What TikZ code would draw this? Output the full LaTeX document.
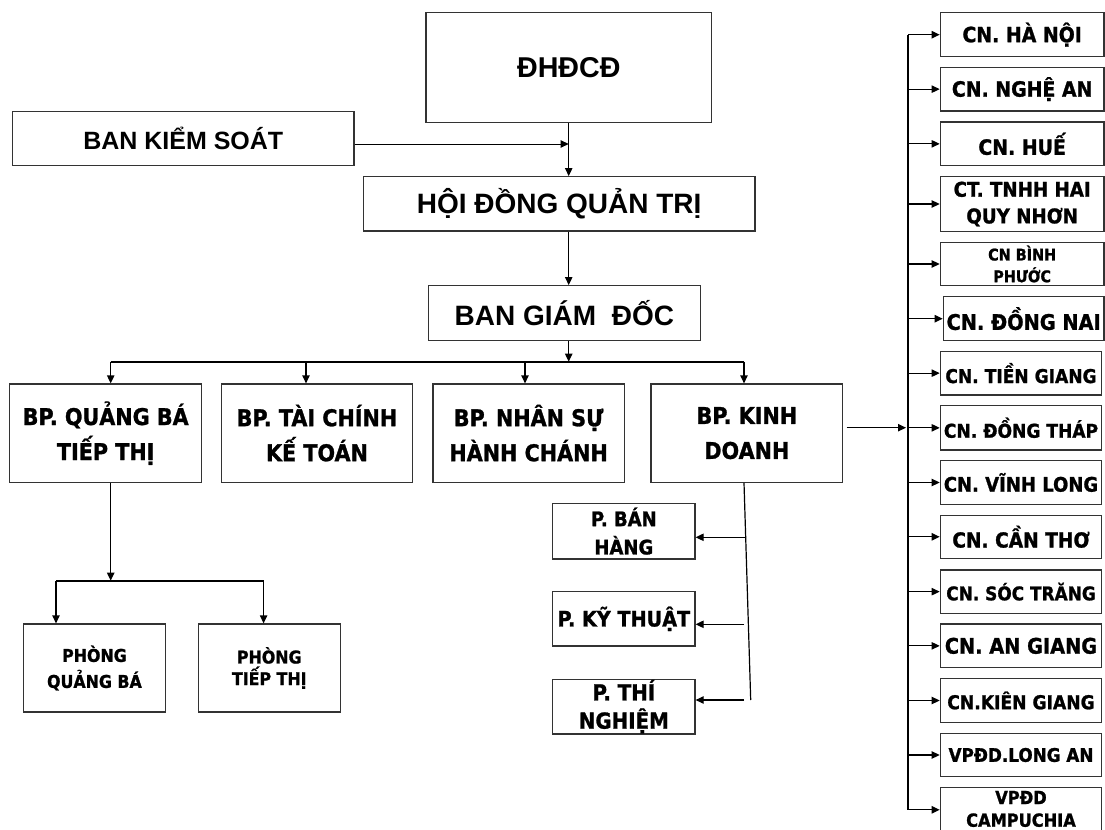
\documentclass[tikz,border=0pt]{standalone}
\usepackage{fontspec}
\usetikzlibrary{arrows.meta}
\newfontfamily\arl{Liberation Sans}
\newfontfamily\tah[FakeStretch=0.9, BoldFeatures={FakeBold=1.2}]{DejaVu Sans}
\newcommand{\orgbox}[7][]{%
  \pgfmathsetmacro{\obw}{(#5-#3)*0.75}%
  \pgfmathsetmacro{\obh}{(#6-#4)*0.75}%
  \node[box, minimum width=\obw pt, minimum height=\obh pt, #1] (#2) at ({(#3+#5)/2},{(#4+#6)/2}) {#7};%
}
\tikzset{
  box/.style={draw=black!80, line width=0.9pt, inner sep=0pt, align=center},
  tf/.style 2 args={font=\tah\bfseries\fontsize{#1pt}{#2pt}\selectfont},
  af/.style 2 args={font=\arl\bfseries\fontsize{#1pt}{#2pt}\selectfont},
  arr/.style={-{Triangle[length=6pt,width=5.5pt]}, line width=0.9pt},
  bus/.style={line width=1.6pt},
}
\begin{document}
\begin{tikzpicture}[x=0.75pt, y=-0.75pt]
\useasboundingbox (0,0) rectangle (1105,830);

% top
\orgbox[af={21.5}{25}]{dhd}{426}{12.7}{711.7}{122.3}{ĐHĐCĐ}
\orgbox[af={18.75}{22}]{bks}{12.5}{111.5}{354}{165.7}{BAN KIỂM SOÁT}
\orgbox[af={21}{25}]{hdqt}{363.3}{176.7}{755}{231}{HỘI ĐỒNG QUẢN TRỊ}
\orgbox[af={21}{25}]{bgd}{428.3}{285.7}{700.5}{340.7}{BAN GIÁM\ \ ĐỐC}

% row
\orgbox[tf={17.25}{26.25}]{bp1}{9.6}{384}{201.8}{482.3}{BP. QUẢNG BÁ\\TIẾP THỊ}
\orgbox[tf={17.25}{26.25}]{bp2}{221.4}{384}{412.5}{482.3}{BP. TÀI CHÍNH\\KẾ TOÁN}
\orgbox[tf={17.25}{26.25}]{bp3}{432.9}{384}{624.3}{482.3}{BP. NHÂN SỰ\\HÀNH CHÁNH}
\orgbox[tf={17.25}{26.25}]{bp4}{651}{384}{842.7}{482.3}{BP. KINH\\DOANH}

% phong
\orgbox[tf={13.2}{19.5}]{pqb}{23.2}{624}{165.7}{712}{PHÒNG\\QUẢNG BÁ}
\orgbox[tf={13.2}{16.2}]{ptt}{198.2}{624}{340.4}{712}{PHÒNG\\TIẾP THỊ}

% P boxes
\orgbox[tf={15}{21.2}]{pban}{552.7}{503.3}{695}{559}{P. BÁN\\HÀNG}
\orgbox[tf={16}{20}]{pkt}{552.7}{591.7}{695}{646}{P. KỸ THUẬT}
\orgbox[tf={16.5}{21.2}]{ptn}{552.7}{679.3}{695}{734}{P. THÍ\\NGHIỆM}

% right column
\orgbox[tf={15.75}{20}]{r1}{940.3}{12.7}{1104}{56.7}{CN. HÀ NỘI}
\orgbox[tf={15.75}{20}]{r2}{940.3}{67.3}{1104}{111}{CN. NGHỆ AN}
\orgbox[tf={15.75}{20}]{r3}{940.3}{122}{1104}{165.7}{CN. HUẾ}
\orgbox[tf={15.2}{20}]{r4}{940.3}{176.7}{1104}{231.3}{CT. TNHH HAI\\QUY NHƠN}
\orgbox[tf={12}{16.3}]{r5}{940.3}{242.3}{1104}{285.7}{CN BÌNH\\PHƯỚC}
\orgbox[tf={16.1}{20}]{r6}{943.3}{296.7}{1104}{340.7}{CN. ĐỒNG NAI}
\orgbox[tf={14.25}{20}]{r7}{940.3}{351.3}{1101.7}{395}{CN. TIỀN GIANG}
\orgbox[tf={14.25}{20}]{r8}{940.3}{405.7}{1101.7}{450}{CN. ĐỒNG THÁP}
\orgbox[tf={15}{20}]{r9}{940.3}{460.7}{1101.7}{504.3}{CN. VĨNH LONG}
\orgbox[tf={15.5}{20}]{r10}{940.3}{515.3}{1101.7}{558.3}{CN. CẦN THƠ}
\orgbox[tf={14.1}{20}]{r11}{940.3}{570}{1101.7}{613.3}{CN. SÓC TRĂNG}
\orgbox[tf={16.1}{20}]{r12}{940.3}{624}{1101.7}{667.7}{CN. AN GIANG}
\orgbox[tf={14.3}{20}]{r13}{940.3}{678.7}{1101.7}{722.3}{CN.KIÊN GIANG}
\orgbox[tf={14}{20}]{r14}{940.3}{733.3}{1101.7}{776.7}{VPĐD.LONG AN}
\orgbox[tf={13.5}{17}]{r15}{940.3}{787.7}{1101.7}{834}{\raisebox{2.5pt}{\begin{tabular}{@{}c@{}}VPĐD\\CAMPUCHIA\end{tabular}}}

% coordinates
\coordinate (vx) at (568.7,0);
\coordinate (j1) at (568.7,144);
\coordinate (bus) at (568.7,361.7);
\coordinate (b1) at (110.7,361.7);
\coordinate (b2) at (306,361.7);
\coordinate (b3) at (525,361.7);
\coordinate (b4) at (744,361.7);
\coordinate (rb) at (906,427.7);
\coordinate (rtop) at (908,34.7);
\coordinate (rbot) at (908,809.8);
\coordinate (kend) at (750.7,700);
\coordinate (k1) at (746,537.3);
\coordinate (k2) at (744,624.3);
\coordinate (k3) at (744,700);
\coordinate (s0) at (110.7,580.7);
\coordinate (s1) at (56,580.7);
\coordinate (s2) at (263.6,580.7);

% top connectors
\draw[arr, line width=0.7pt] (bks.east |- j1) -- (j1);
\draw[arr] (dhd.south -| vx) -- (hdqt.north -| vx);
\draw[arr] (hdqt.south -| vx) -- (bgd.north -| vx);
\draw[arr] (bgd.south -| vx) -- (bus);
\draw[bus] (b1) -- (b4);
\draw[arr] (b1) -- (b1 |- bp1.north);
\draw[arr] (b2) -- (b2 |- bp2.north);
\draw[arr] (b3) -- (b3 |- bp3.north);
\draw[arr] (b4) -- (b4 |- bp4.north);

% sub bus under bp1
\draw[arr] (bp1.south -| b1) -- (s0);
\draw[bus] (s1) -- (s2);
\draw[arr] (s1) -- (s1 |- pqb.north);
\draw[arr] (s2) -- (s2 |- ptt.north);

% kinh doanh
\draw[arr] ([xshift=2.5pt]bp4.east |- rb) -- (rb);
\draw[line width=0.9pt] (bp4.south -| b4) -- (kend);
\draw[arr] (k1) -- (pban.east |- k1);
\draw[arr] (k2) -- (pkt.east |- k2);
\draw[arr] (k3) -- (ptn.east |- k3);

% right bus
\draw[bus] (rtop) -- (rbot);
\foreach \i in {1,...,14}{
  \draw[arr] (r\i.west -| rtop) -- (r\i.west);
}
\draw[arr] (rbot) -- (r15.west |- rbot);
\end{tikzpicture}
\end{document}
